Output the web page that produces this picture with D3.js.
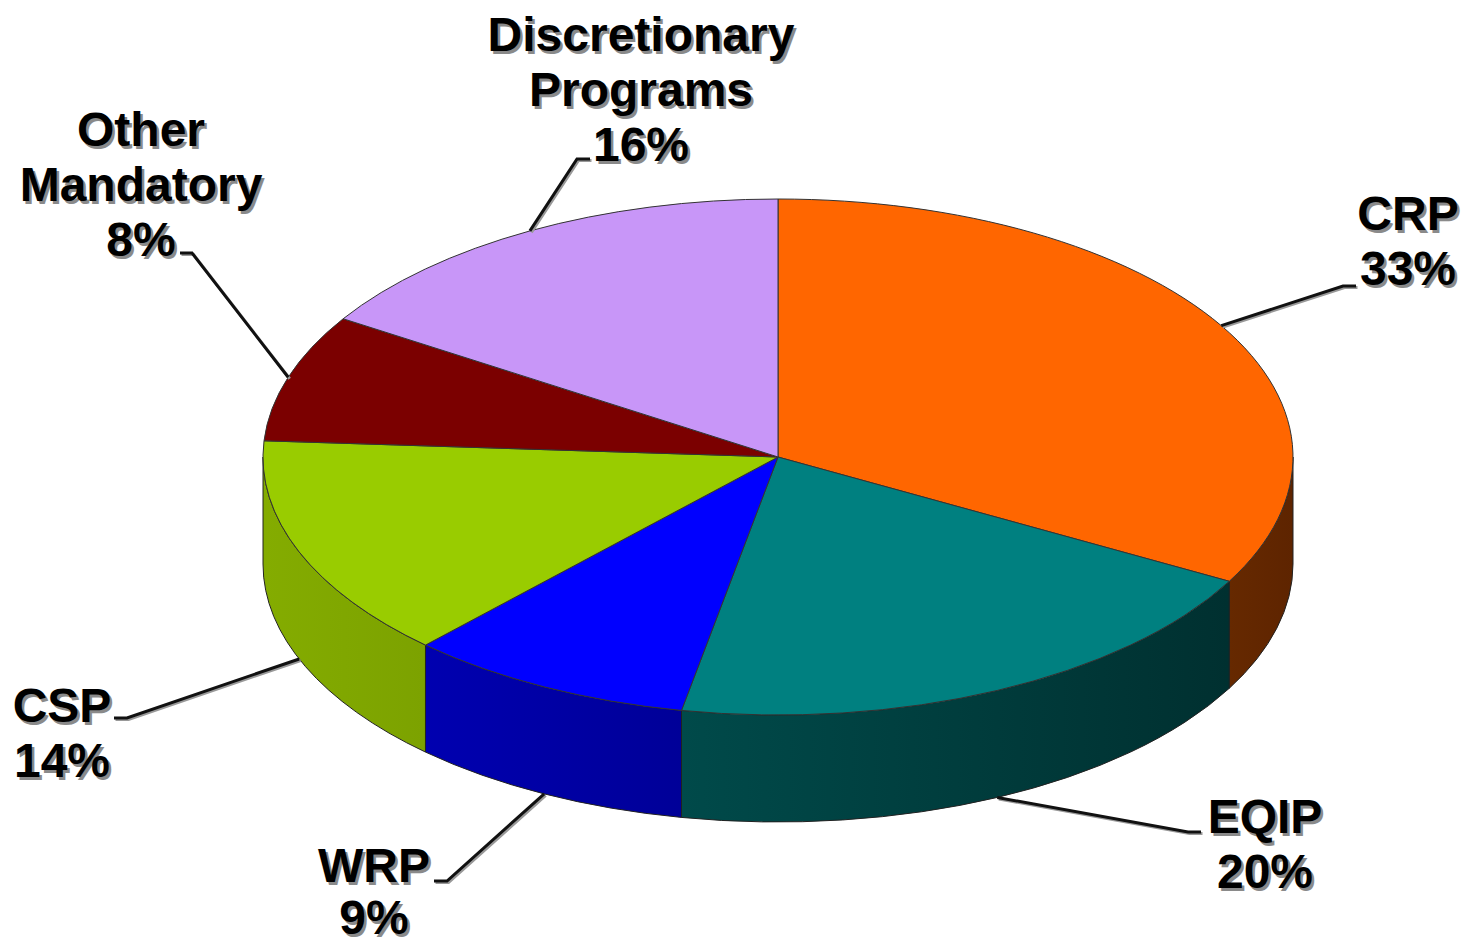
<!DOCTYPE html>
<html>
<head>
<meta charset="utf-8">
<script src="https://cdn.jsdelivr.net/npm/d3@7/dist/d3.min.js"></script>
<style>
  html, body { margin: 0; padding: 0; background: #fff; }
  text { font-family: "Liberation Sans", Arial, sans-serif; font-weight: bold; }
</style>
</head>
<body>
<svg id="chart" width="1467" height="946"></svg>
<script>
// data
var programs = ["CRP", "EQIP", "WRP", "CSP", "Other Mandatory", "Discretionary Programs"];
var shares = [33, 20, 9, 14, 8, 16];
var labelLines = [["CRP", "33%"], ["EQIP", "20%"], ["WRP", "9%"], ["CSP", "14%"], ["Other", "Mandatory", "8%"], ["Discretionary", "Programs", "16%"]];
var topColors = ["#ff6600", "#008080", "#0000ff", "#99cc00", "#7b0000", "#c896f8"];
var sideColors = [["#662900", "#5e2400"], ["#004a4a", "#003030"], ["#0000b0", "#000098"], ["#84ac00", "#7ca200"], ["#5a0000", "#4a0000"], ["#9a70c0", "#8a60b0"]];

// label placement (text centre, first baseline, line step, leader end/elbow)
var labelLayout = [
  {x: 1408, y: 230, step: 55, endX: 1356, elbowX: 1343, lineY: 286},
  {x: 1265, y: 833, step: 55, endX: 1201, elbowX: 1188, lineY: 832},
  {x: 374, y: 882, step: 52, endX: 434, elbowX: 447, lineY: 881},
  {x: 62, y: 722, step: 55, endX: 114, elbowX: 127, lineY: 718},
  {x: 141, y: 146, step: 55, endX: 180, elbowX: 192, lineY: 253},
  {x: 641, y: 51, step: 55, endX: 590, elbowX: 577, lineY: 159}
];

var svg = d3.select("#chart");
var cx = 778, cy = 457, rx = 515, ry = 258, depth = 107;
var fontSize = 48;

var pie = d3.pie().sort(null).startAngle(0).endAngle(2 * Math.PI);
var arcs = pie(shares);

// point on the top ellipse, angle clockwise from 12 o'clock
function pt(a, dy) {
  return [cx + rx * Math.sin(a), cy - ry * Math.cos(a) + (dy || 0)];
}

function topPath(a0, a1) {
  var p0 = pt(a0), p1 = pt(a1);
  var large = (a1 - a0) > Math.PI ? 1 : 0;
  return "M" + cx + "," + cy + "L" + p0 + "A" + rx + "," + ry + " 0 " + large + " 1 " + p1 + "Z";
}

function sidePath(a0, a1) {
  var p0 = pt(a0), p1 = pt(a1), q1 = pt(a1, depth), q0 = pt(a0, depth);
  return "M" + p0 + "A" + rx + "," + ry + " 0 0 1 " + p1 + "L" + q1 +
    "A" + rx + "," + ry + " 0 0 0 " + q0 + "Z";
}

var defs = svg.append("defs");

// sides (only the front half is visible)
var sides = svg.append("g");
arcs.forEach(function(d, i) {
  var s = Math.max(d.startAngle, Math.PI / 2);
  var e = Math.min(d.endAngle, 3 * Math.PI / 2);
  if (e <= s) return;
  var xa = pt(s)[0], xb = pt(e)[0];
  var g = defs.append("linearGradient")
      .attr("id", "side" + i)
      .attr("gradientUnits", "userSpaceOnUse")
      .attr("x1", Math.min(xa, xb)).attr("x2", Math.max(xa, xb))
      .attr("y1", 0).attr("y2", 0);
  g.append("stop").attr("offset", "0%").attr("stop-color", sideColors[i][0]);
  g.append("stop").attr("offset", "100%").attr("stop-color", sideColors[i][1]);
  sides.append("path")
      .attr("d", sidePath(s, e))
      .attr("fill", "url(#side" + i + ")")
      .attr("stroke", "#222")
      .attr("stroke-width", 1)
      .attr("stroke-linejoin", "round");
});

// top faces
svg.append("g").selectAll("path")
  .data(arcs)
  .join("path")
    .attr("d", function(d) { return topPath(d.startAngle, d.endAngle); })
    .attr("fill", function(d, i) { return topColors[i]; })
    .attr("stroke", "#333")
    .attr("stroke-width", 1)
    .attr("stroke-linejoin", "round");

// leader lines from the middle of each slice
var leaders = svg.append("g");
arcs.forEach(function(d, i) {
  var mid = (d.startAngle + d.endAngle) / 2;
  var front = mid > Math.PI / 2 && mid < 3 * Math.PI / 2;
  var p = pt(mid, front ? depth : 0);
  var L = labelLayout[i];
  var pts = [p, [L.elbowX, L.lineY], [L.endX, L.lineY]];
  leaders.append("polyline")
      .attr("points", pts.map(function(q) { return [q[0] + 1.5, q[1] + 1.5]; }).join(" "))
      .attr("fill", "none").attr("stroke", "#999").attr("stroke-width", 3);
  leaders.append("polyline")
      .attr("points", pts.join(" "))
      .attr("fill", "none").attr("stroke", "#111").attr("stroke-width", 3);
});

// labels with a grey drop shadow
var labels = svg.append("g");
labelLines.forEach(function(lines, i) {
  var L = labelLayout[i];
  [["#8a8a8a", 2.5], ["#000", 0]].forEach(function(style) {
    lines.forEach(function(t, k) {
      labels.append("text")
          .attr("x", L.x + style[1])
          .attr("y", L.y + k * L.step + style[1])
          .attr("text-anchor", "middle")
          .attr("font-size", fontSize + "px")
          .attr("fill", style[0])
          .text(t);
    });
  });
});
</script>
</body>
</html>
